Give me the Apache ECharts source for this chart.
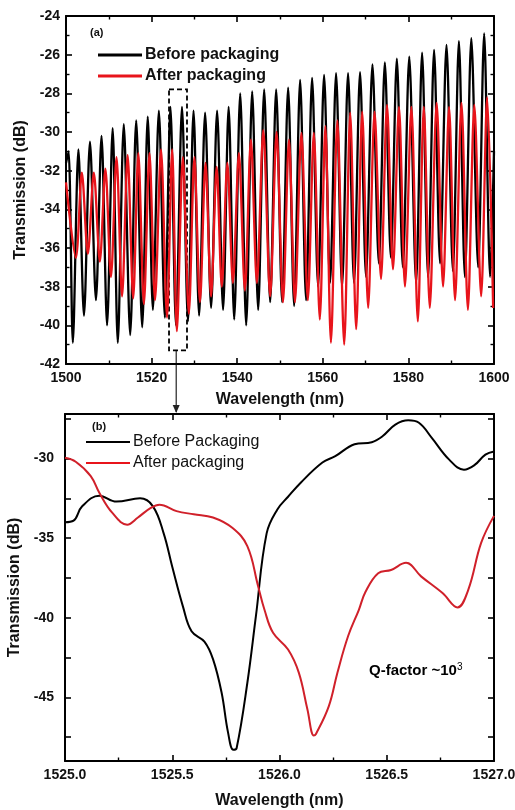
<!DOCTYPE html>
<html>
<head>
<meta charset="utf-8">
<script src="https://cdn.jsdelivr.net/npm/echarts@6/dist/echarts.min.js"></script>
<style>
html, body { margin: 0; padding: 0; background: #fff; }
#chart { width: 515px; height: 810px; }
</style>
</head>
<body>
<div id="chart"></div>
<script>
// panel (a) : turning points of the comb, [wavelength nm, dB]
var blackPeaksA = [
	[1500.0, -31.6], [1500.6, -31.0], [1502.9, -30.9], [1505.6, -30.5], [1508.3, -30.2], [1510.9, -29.8],
	[1513.5, -29.6], [1516.4, -29.4], [1519.1, -29.2], [1521.7, -28.9], [1524.4, -28.7], [1527.1, -28.7],
	[1529.8, -28.9], [1532.5, -29.0], [1535.3, -28.9], [1538.0, -28.7], [1540.7, -28.0], [1543.5, -27.9],
	[1546.3, -27.8], [1549.1, -27.8], [1551.9, -27.7], [1554.7, -27.3], [1557.5, -27.2], [1560.3, -27.05],
	[1563.1, -26.95], [1565.9, -26.95], [1568.7, -26.9], [1571.6, -26.5], [1574.5, -26.4], [1577.3, -26.2],
	[1580.2, -26.1], [1583.2, -25.9], [1586.0, -25.75], [1588.9, -25.5], [1591.8, -25.3], [1594.7, -25.15],
	[1597.7, -24.9]
];
var blackDipsA = [
	[1501.6, -40.9], [1504.2, -39.5], [1507.0, -38.7], [1509.6, -40.0], [1512.1, -40.9], [1515.0, -40.5],
	[1517.8, -40.1], [1520.3, -39.2], [1523.1, -39.6], [1525.7, -40.0], [1528.5, -39.8], [1531.1, -39.5],
	[1533.9, -39.1], [1536.7, -39.2], [1539.3, -39.7], [1542.1, -40.0], [1544.9, -39.2], [1547.7, -38.8],
	[1550.5, -38.8], [1553.3, -39.0], [1556.1, -38.7], [1558.9, -38.0], [1561.7, -37.8], [1564.5, -38.0],
	[1567.3, -37.8], [1570.1, -37.5], [1573.1, -36.8], [1575.9, -36.5], [1578.7, -37.0], [1581.8, -37.8],
	[1584.6, -37.5], [1587.4, -36.8], [1590.4, -37.2], [1593.2, -37.5], [1596.3, -37.0], [1599.1, -37.5],
	[1600.0, -31.0]
];
var redPeaksA = [
	[1500.0, -32.6], [1503.7, -32.1], [1506.5, -32.1], [1509.2, -31.9], [1511.8, -31.3], [1514.4, -31.2],
	[1516.9, -31.1], [1519.5, -31.1], [1522.2, -30.9], [1524.8, -30.9], [1527.3, -31.3], [1530.0, -31.3],
	[1532.6, -31.6], [1535.2, -31.8], [1537.7, -31.6], [1540.4, -31.1], [1543.2, -30.4], [1546.1, -29.9],
	[1549.2, -30.0], [1552.1, -30.4], [1555.0, -30.05], [1557.9, -30.05], [1560.6, -29.7], [1563.4, -29.4],
	[1566.4, -29.0], [1569.2, -28.95], [1572.1, -28.95], [1575.0, -28.6], [1577.8, -28.7], [1580.7, -28.7],
	[1583.6, -28.7], [1586.6, -28.5], [1589.5, -28.7], [1592.4, -28.5], [1595.4, -28.6], [1598.4, -28.2]
];
var redDipsA = [
	[1502.3, -36.5], [1505.1, -36.3], [1507.9, -36.7], [1510.5, -37.5], [1513.1, -38.5], [1515.7, -38.6],
	[1518.2, -38.9], [1520.8, -38.7], [1523.6, -39.6], [1525.9, -40.3], [1528.7, -39.4], [1531.3, -38.8],
	[1533.9, -38.5], [1536.4, -38.0], [1539.0, -37.8], [1541.8, -38.2], [1544.6, -37.8], [1547.7, -38.5],
	[1550.7, -38.8], [1553.5, -38.8], [1556.5, -38.7], [1559.3, -39.7], [1561.9, -40.9], [1565.0, -41.0],
	[1567.8, -40.2], [1570.6, -39.1], [1573.6, -37.6], [1576.4, -37.1], [1579.2, -38.0], [1582.2, -39.8],
	[1585.0, -39.1], [1588.1, -38.0], [1590.9, -38.7], [1593.9, -39.2], [1597.0, -38.5], [1599.8, -39.1]
];
// dashed box marking the zoomed resonance
var boxA = [[1524.07, -27.8], [1528.27, -41.3]];

// panel (b) : single resonance
var blackB = [
	[1525.00, -34.0], [1525.04, -33.9], [1525.08, -33.0], [1525.16, -32.33], [1525.24, -32.7], [1525.35, -32.5],
	[1525.41, -33.0], [1525.46, -34.7], [1525.50, -36.8], [1525.55, -39.3], [1525.59, -40.85], [1525.65, -41.5],
	[1525.69, -42.6], [1525.73, -44.7], [1525.76, -47.2], [1525.785, -48.3], [1525.80, -48.2], [1525.85, -44.1],
	[1525.89, -39.9], [1525.94, -34.7], [1525.99, -33.2], [1526.04, -32.4], [1526.10, -31.5], [1526.20, -30.25],
	[1526.26, -29.85], [1526.35, -29.1], [1526.43, -28.97], [1526.48, -28.6], [1526.54, -27.87], [1526.60, -27.6],
	[1526.65, -27.75], [1526.71, -28.7], [1526.79, -30.05], [1526.86, -30.7], [1526.91, -30.4], [1526.96, -29.75],
	[1527.00, -29.55]
];
var redB = [
	[1525.00, -29.95], [1525.05, -30.2], [1525.12, -31.1], [1525.16, -32.15], [1525.22, -33.4], [1525.29, -34.15],
	[1525.34, -33.7], [1525.40, -33.1], [1525.44, -32.9], [1525.52, -33.3], [1525.60, -33.5], [1525.69, -33.7],
	[1525.78, -34.35], [1525.85, -35.5], [1525.90, -38.0], [1525.93, -39.5], [1525.97, -40.95], [1526.04, -42.0],
	[1526.09, -43.45], [1526.13, -45.75], [1526.16, -47.4], [1526.17, -47.3], [1526.23, -45.55], [1526.27, -43.45],
	[1526.32, -41.15], [1526.37, -39.5], [1526.40, -38.4], [1526.46, -37.2], [1526.52, -37.0], [1526.59, -36.55],
	[1526.66, -37.4], [1526.76, -38.45], [1526.83, -39.35], [1526.88, -38.25], [1526.94, -35.3], [1527.00, -33.6]
];
var yTicksB = [-47.5, -45, -42.5, -40, -37.5, -35, -32.5, -30, -27.5];
var yLabelsB = [-45, -40, -35, -30];

var font = '"Liberation Sans", Arial, sans-serif';

function merge(a, b) {
	return a.concat(b).sort(function (p, q) { return p[0] - q[0]; });
}

function frameAxis(o) {
	var ax = {
		type: 'value',
		gridIndex: o.grid,
		position: o.pos,
		min: o.min,
		max: o.max,
		axisLine: { show: true, onZero: false, lineStyle: { color: '#000', width: 2 } },
		axisTick: { show: true, inside: true, length: 6, lineStyle: { color: '#000', width: 1.6 } },
		minorTick: { show: !!o.minor, splitNumber: 2, length: 3.5, lineStyle: { color: '#000', width: 1.4 } },
		splitLine: { show: false },
		minorSplitLine: { show: false },
		axisLabel: {
			show: !!o.label,
			margin: o.margin || 6,
			color: '#111',
			fontFamily: font,
			fontWeight: 'bold',
			fontSize: 14,
			formatter: o.fmt || function (v) { return String(v); }
		}
	};
	if (o.interval) ax.interval = o.interval;
	if (o.ticks) ax.axisTick.customValues = o.ticks;
	if (o.labels) ax.axisLabel.customValues = o.labels;
	if (o.name) {
		ax.name = o.name;
		ax.nameLocation = 'middle';
		ax.nameGap = o.gap;
		ax.nameTextStyle = { fontFamily: font, fontWeight: 'bold', fontSize: 16, color: '#111' };
	}
	return ax;
}

var chart = echarts.init(document.getElementById('chart'));

var option = {
	animation: false,
	backgroundColor: '#fff',
	grid: [
		{ left: 66, top: 16, right: 21, height: 348, outerBoundsMode: 'none' },
		{ left: 65, top: 414, right: 21, height: 347, outerBoundsMode: 'none' }
	],
	xAxis: [
		frameAxis({ grid: 0, pos: 'bottom', min: 1500, max: 1600, interval: 20, minor: true, label: true, margin: 7,
			name: 'Wavelength (nm)', gap: 28 }),
		frameAxis({ grid: 0, pos: 'top', min: 1500, max: 1600, interval: 20, minor: true }),
		frameAxis({ grid: 1, pos: 'bottom', min: 1525, max: 1527, interval: 0.5, minor: true, label: true, margin: 7,
			fmt: function (v) { return v.toFixed(1); }, name: 'Wavelength (nm)', gap: 32 }),
		frameAxis({ grid: 1, pos: 'top', min: 1525, max: 1527, interval: 0.5, minor: true })
	],
	yAxis: [
		frameAxis({ grid: 0, pos: 'left', min: -42, max: -24, interval: 2, minor: true, label: true, margin: 6,
			name: 'Transmission (dB)', gap: 36 }),
		frameAxis({ grid: 0, pos: 'right', min: -42, max: -24, interval: 2, minor: true }),
		frameAxis({ grid: 1, pos: 'left', min: -49, max: -27.2, ticks: yTicksB, labels: yLabelsB, label: true, margin: 11,
			name: 'Transmission (dB)', gap: 34 }),
		frameAxis({ grid: 1, pos: 'right', min: -49, max: -27.2, ticks: yTicksB })
	],
	legend: [
		{
			left: 98, top: 47, orient: 'vertical', icon: 'rect', itemWidth: 44, itemHeight: 3, itemGap: 5, padding: 0,
			data: ['Before packaging', 'After packaging'],
			textStyle: { fontFamily: font, fontWeight: 'bold', fontSize: 16, color: '#111', padding: [0, 0, 0, -2] }
		},
		{
			left: 86, top: 434, orient: 'vertical', icon: 'rect', itemWidth: 44, itemHeight: 2.2, itemGap: 5, padding: 0,
			data: ['Before Packaging', 'After packaging'],
			textStyle: { fontFamily: font, fontSize: 16, color: '#111', padding: [0, 0, 0, -2] }
		}
	],
	series: [
		{
			name: 'Before packaging', type: 'line', xAxisIndex: 0, yAxisIndex: 0,
			data: merge(blackPeaksA, blackDipsA), symbol: 'none', smooth: 0.3,
			lineStyle: { color: '#000', width: 2.3 }, itemStyle: { color: '#000' }, z: 2
		},
		{
			name: 'After packaging', type: 'line', xAxisIndex: 0, yAxisIndex: 0,
			data: merge(redPeaksA, redDipsA), symbol: 'none', smooth: 0.3,
			lineStyle: { color: '#e8141b', width: 2.3 }, itemStyle: { color: '#e8141b' }, z: 3
		},
		{
			name: 'box', type: 'line', xAxisIndex: 0, yAxisIndex: 0, data: [], z: 6,
			markArea: {
				silent: true,
				itemStyle: { color: 'rgba(0,0,0,0)', borderColor: '#000', borderWidth: 1.8, borderType: [5, 3] },
				label: { show: false },
				data: [[{ coord: boxA[0] }, { coord: boxA[1] }]]
			}
		},
		{
			name: 'Before Packaging', type: 'line', xAxisIndex: 2, yAxisIndex: 2,
			data: blackB, symbol: 'none', smooth: 0.4,
			lineStyle: { color: '#000', width: 2 }, itemStyle: { color: '#000' }, z: 2
		},
		{
			name: 'After packaging', type: 'line', xAxisIndex: 2, yAxisIndex: 2,
			data: redB, symbol: 'none', smooth: 0.4,
			lineStyle: { color: '#d0202a', width: 2 }, itemStyle: { color: '#d0202a' }, z: 3
		}
	]
};
chart.setOption(option);

// labels and the arrow from the dashed box down to panel (b)
var p0 = chart.convertToPixel({ xAxisIndex: 0, yAxisIndex: 0 }, [1525.75, boxA[1][1]]);
var p1 = chart.convertToPixel({ xAxisIndex: 2, yAxisIndex: 2 }, [1525.52, -27.2]);
chart.setOption({
	graphic: [
		{ type: 'text', left: 90, top: 27, style: { text: '(a)', font: 'bold 11px ' + font, fill: '#111' } },
		{ type: 'text', left: 92, top: 421, style: { text: '(b)', font: 'bold 11px ' + font, fill: '#111' } },
		{
			type: 'text', left: 369, top: 662,
			style: {
				text: '{m|Q-factor ~10}{s|3}',
				rich: {
					m: { fontFamily: font, fontWeight: 'bold', fontSize: 15, color: '#111' },
					s: { fontFamily: font, fontSize: 10, color: '#111', verticalAlign: 'top', padding: [0, 0, 8, 0] }
				}
			}
		},
		{ type: 'line', shape: { x1: p0[0], y1: p0[1], x2: p0[0], y2: p1[1] - 2 }, style: { stroke: '#222', lineWidth: 1.2 } },
		{ type: 'polygon', shape: { points: [[p0[0] - 3.5, p1[1] - 9], [p0[0] + 3.5, p1[1] - 9], [p0[0], p1[1] - 1]] }, style: { fill: '#222' } }
	]
});
</script>
</body>
</html>
